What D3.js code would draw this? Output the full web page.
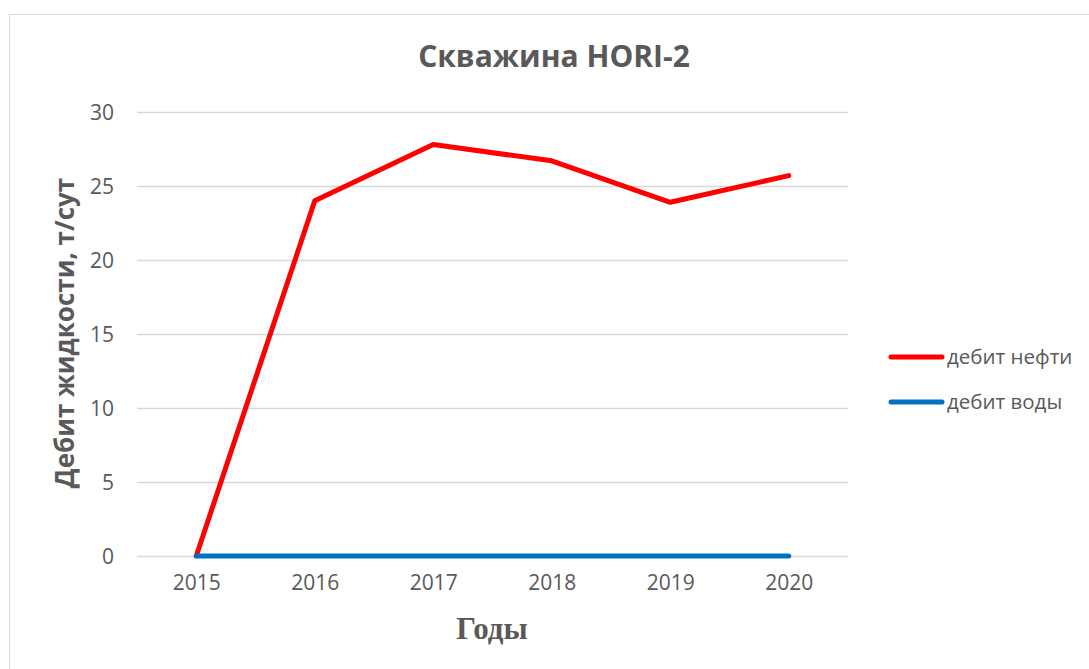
<!DOCTYPE html>
<html>
<head>
<meta charset="utf-8">
<script src="https://cdn.jsdelivr.net/npm/d3@7"></script>
<style>
  html, body { margin: 0; padding: 0; background: #fff; }
  svg { display: block; }
</style>
</head>
<body>
<svg id="chart" width="1089" height="669"></svg>
<script>
// Chart data
const years = ["2015", "2016", "2017", "2018", "2019", "2020"];
const oilRate = [0, 24.0, 27.8, 26.7, 23.9, 25.7];
const waterRate = [0, 0, 0, 0, 0, 0];
const yTicks = [0, 5, 10, 15, 20, 25, 30];
const seriesNames = ["дебит нефти", "дебит воды"];
const seriesColors = ["#ff0000", "#0070c0"];

const svg = d3.select("#chart");
const W = 1089, H = 669;
const plot = { left: 137, right: 848, top: 112, bottom: 556 };
const textColor = "#595959";
const font = "'Open Sans', sans-serif";

// Outer frame
svg.append("rect")
  .attr("x", 9.5).attr("y", 14.5)
  .attr("width", W).attr("height", H)
  .attr("fill", "#fff").attr("stroke", "#d9d9d9").attr("stroke-width", 1);

const x = d3.scalePoint().domain(years).range([plot.left, plot.right]).padding(0.5);
const y = d3.scaleLinear().domain([0, 30]).range([plot.bottom, plot.top]);

// Horizontal gridlines
svg.append("g")
  .selectAll("line").data(yTicks).join("line")
  .attr("x1", plot.left).attr("x2", plot.right)
  .attr("y1", d => y(d) + 0.5).attr("y2", d => y(d) + 0.5)
  .attr("stroke", "#d9d9d9").attr("stroke-width", 1.3);

// Y axis labels
const yAxis = d3.axisLeft(y).tickValues(yTicks).tickSize(0).tickPadding(0).tickFormat(d3.format("d"));
const gy = svg.append("g").attr("transform", `translate(${plot.left - 23},0)`).call(yAxis);
gy.select(".domain").remove();
gy.selectAll("text")
  .attr("fill", textColor).attr("font-family", font).attr("font-size", 21)
  .attr("dy", "0.36em");

// X axis labels
const xAxis = d3.axisBottom(x).tickSize(0).tickPadding(0);
const gx = svg.append("g").attr("transform", `translate(0,${plot.bottom + 19})`).call(xAxis);
gx.select(".domain").remove();
gx.selectAll("text")
  .attr("fill", textColor).attr("font-family", font).attr("font-size", 21)
  .attr("dy", "0.71em");

// Series lines
const line = d3.line().x((d, i) => x(years[i])).y(d => y(d));
[oilRate, waterRate].forEach((vals, i) => {
  svg.append("path")
    .datum(vals)
    .attr("d", line)
    .attr("fill", "none")
    .attr("stroke", seriesColors[i])
    .attr("stroke-width", 5)
    .attr("stroke-linejoin", "round")
    .attr("stroke-linecap", "round");
});

// Title
svg.append("text")
  .attr("x", 554).attr("y", 67)
  .attr("text-anchor", "middle")
  .attr("fill", textColor).attr("font-family", font)
  .attr("font-size", 30).attr("font-weight", "bold")
  .text("Скважина HORI-2");

// Y axis title
svg.append("text")
  .attr("transform", "translate(74,333) rotate(-90)")
  .attr("text-anchor", "middle")
  .attr("fill", textColor).attr("font-family", font)
  .attr("font-size", 26).attr("font-weight", "bold")
  .text("Дебит жидкости, т/сут");

// X axis title
svg.append("text")
  .attr("x", 492).attr("y", 639)
  .attr("text-anchor", "middle")
  .attr("fill", textColor).attr("font-family", "'Liberation Serif', 'Times New Roman', serif")
  .attr("font-size", 31).attr("font-weight", "bold")
  .text("Годы");

// Legend
const legend = svg.append("g");
seriesNames.forEach((name, i) => {
  const ly = 357 + i * 45;
  legend.append("line")
    .attr("x1", 891).attr("x2", 942).attr("y1", ly).attr("y2", ly)
    .attr("stroke", seriesColors[i]).attr("stroke-width", 5).attr("stroke-linecap", "round");
  legend.append("text")
    .attr("x", 947).attr("y", ly).attr("dy", "0.36em")
    .attr("fill", textColor).attr("font-family", font).attr("font-size", 20.5)
    .text(name);
});
</script>
</body>
</html>
